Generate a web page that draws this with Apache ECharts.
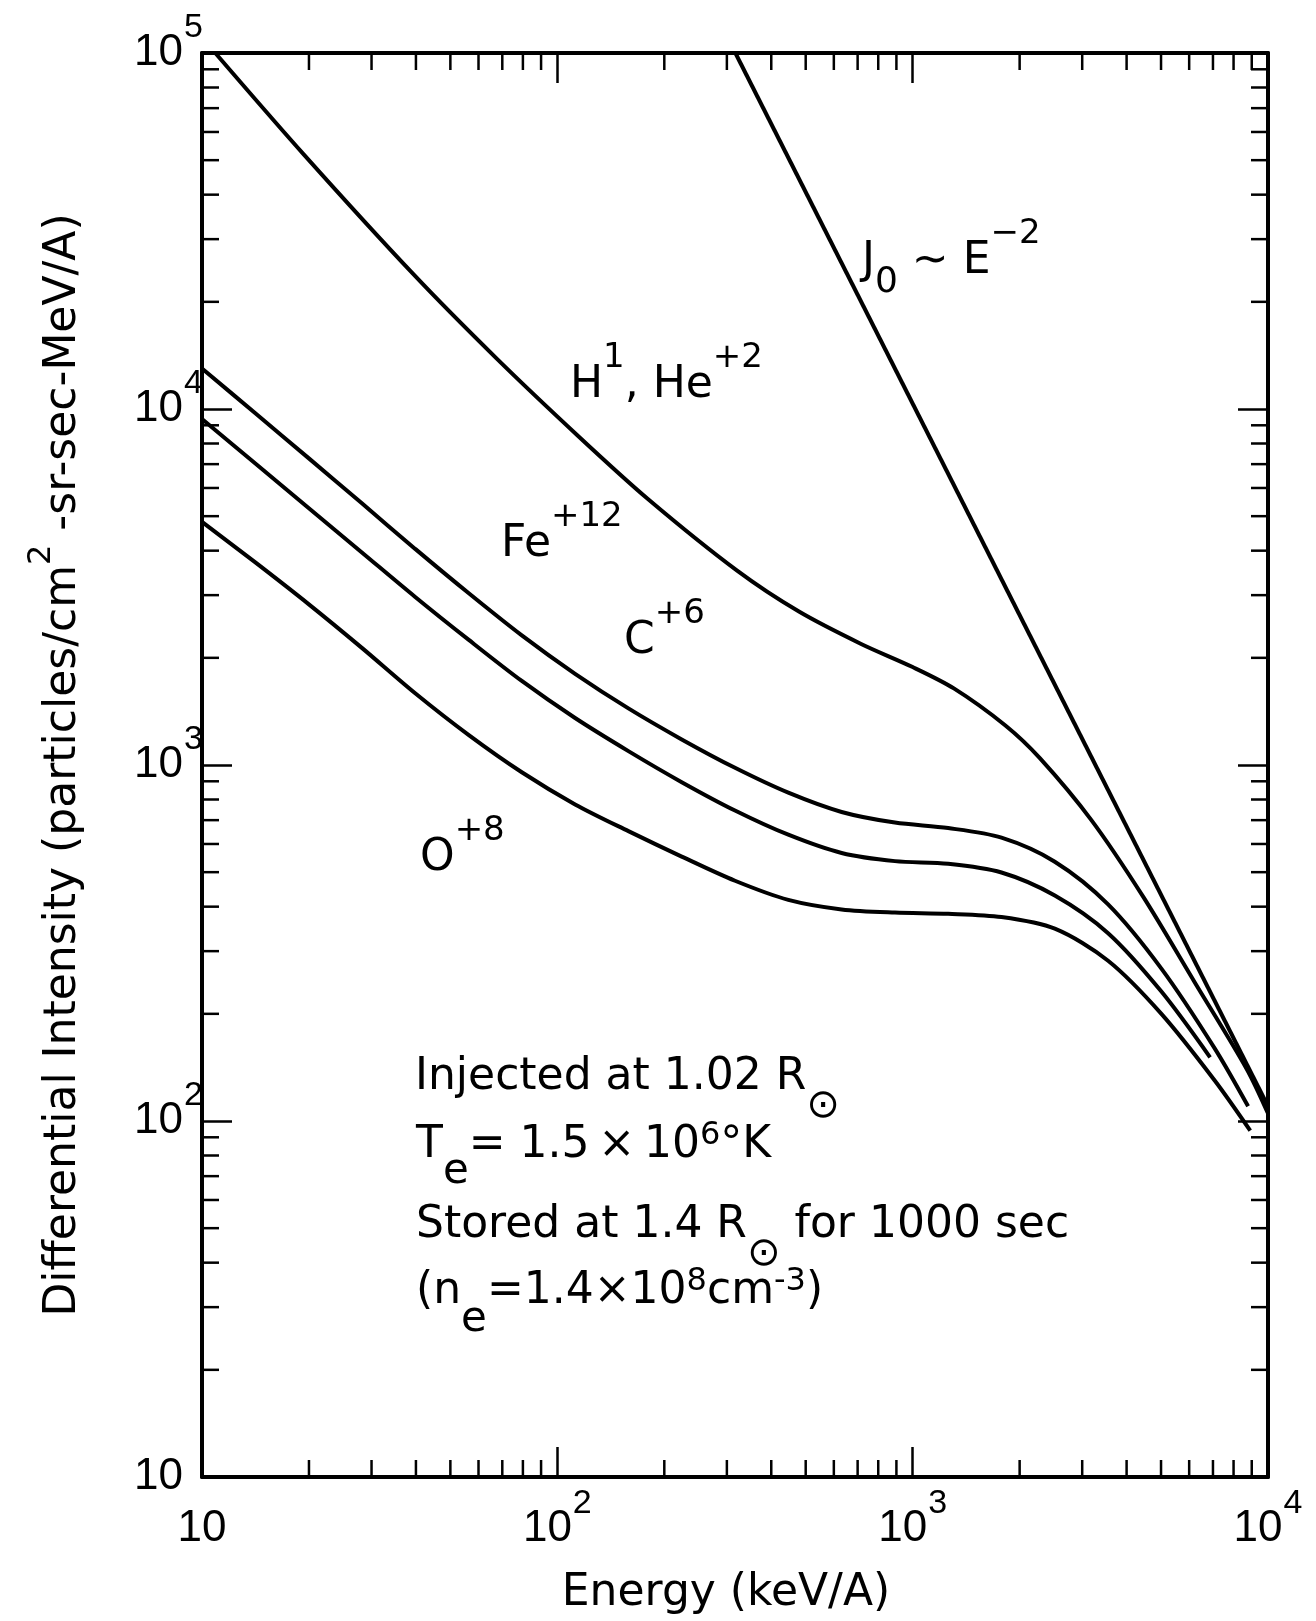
<!DOCTYPE html>
<html><head><meta charset="utf-8">
<script src="https://cdn.jsdelivr.net/npm/echarts@6/dist/echarts.min.js"></script>
<style>html,body{margin:0;padding:0;background:#fff}#c{width:1316px;height:1621px}</style>
</head><body><div id="c"></div>
<script>
// ---------------- data ----------------
// Energy in keV/A, differential intensity in particles/(cm^2 sr sec MeV/A)
const energyH    = [10.9, 19.3, 39.4, 67.3, 114.8, 179.5, 320.6, 478.6, 716.1, 1000, 1306, 1824, 2280, 3184, 4457, 6223, 8710, 10000];
const intensityH = [100000, 52000, 23880, 13900, 8375, 5598, 3516, 2698, 2188, 1884, 1641, 1291, 1045, 700, 426, 245, 140, 105];

const energyFe    = [10, 14.13, 19.95, 28.18, 39.81, 56.23, 79.43, 112.2, 158.5, 223.9, 316.2, 446.7, 631.0, 891.3, 1259, 1778, 2512, 3548, 5012, 7079, 8790];
const intensityFe = [13000, 9727, 7278, 5433, 4046, 3041, 2312, 1803, 1442, 1180, 982, 836, 738, 689, 665, 625, 535, 406, 268, 160, 110];

const energyC    = [10, 14.13, 19.95, 28.18, 39.81, 56.23, 79.43, 112.2, 158.5, 223.9, 316.2, 446.7, 631.0, 891.3, 1259, 1778, 2512, 3548, 5012, 6871];
const intensityC = [9376, 7031, 5272, 3954, 2965, 2249, 1722, 1355, 1094, 895, 745, 637, 566, 537, 528, 499, 430, 337, 231, 151];

const energyO    = [10, 14.13, 19.95, 28.18, 39.81, 56.23, 79.43, 112.2, 158.5, 223.9, 316.2, 446.7, 631.0, 891.3, 1259, 1778, 2512, 3548, 5012, 7079, 8913];
const intensityO = [4820, 3707, 2831, 2133, 1590, 1215, 954, 775, 652, 553, 473, 418, 393, 385, 382, 374, 347, 282, 200, 130, 94];

const energyJ0    = [317, 10000];
const intensityJ0 = [100000, 110];

// axis ranges and minor tick values
const xRange = [10, 10000];
const yRange = [10, 100000];
const xMinorTicks = [20,30,40,50,60,70,80,90, 200,300,400,500,600,700,800,900, 2000,3000,4000,5000,6000,7000,8000,9000];
const yMinorTicks = [20,30,40,50,60,70,80,90, 200,300,400,500,600,700,800,900, 2000,3000,4000,5000,6000,7000,8000,9000, 20000,30000,40000,50000,60000,70000,80000,90000];

// ---------------- chart ----------------
const FONT = '"DejaVu Sans", sans-serif';
const TICKFONT = '"Liberation Sans", Arial, sans-serif';
const chart = echarts.init(document.getElementById('c'), null, {renderer: 'canvas'});

function pair(xs, ys) { return xs.map((x, i) => [x, ys[i]]); }

const tickRich = {
  b: {fontFamily: TICKFONT, fontSize: 44, height: 44, lineHeight: 84, padding: [20, 0, 0, 0], verticalAlign: 'top', color: '#000'},
  s: {fontFamily: TICKFONT, fontSize: 34, height: 34, lineHeight: 84, padding: [0, 0, 0, 1], verticalAlign: 'top', color: '#000'}
};
function tickFmt(v) {
  const e = Math.round(Math.log10(v));
  return e === 1 ? '{b|10}' : '{b|10}{s|' + e + '}';
}

// rich styles for annotations (zrender text => fill)
const annRich = {
  n: {fontFamily: FONT, fontSize: 44, lineHeight: 44, padding: [23, 0, 0, 0], verticalAlign: 'top', fill: '#000'},
  p: {fontFamily: FONT, fontSize: 34, lineHeight: 34, padding: [0, 0, 0, 0], verticalAlign: 'top', fill: '#000'},
  q: {fontFamily: FONT, fontSize: 32, lineHeight: 32, padding: [19, 0, 0, 0], verticalAlign: 'top', fill: '#000'},
  b: {fontFamily: FONT, fontSize: 42, lineHeight: 42, padding: [50, 0, 0, 0], verticalAlign: 'top', fill: '#000'},
  c: {fontFamily: FONT, fontSize: 42, lineHeight: 42, padding: [52, 0, 0, 0], verticalAlign: 'top', fill: '#000'},
  j: {fontFamily: FONT, fontSize: 36, lineHeight: 36, padding: [48, 0, 0, 0], verticalAlign: 'top', fill: '#000'},
  o: {fontFamily: FONT, fontSize: 40, lineHeight: 40, padding: [54, 0, 0, 0], verticalAlign: 'top', fill: '#000'}
};
function ann(x, capTop, text) {
  return {type: 'text', x: x, y: capTop - 28, silent: true,
    style: {text: text, rich: annRich, fill: '#000', font: '44px ' + FONT}};
}

const lineStyle = {color: '#000', width: 4};
function curve(name, xs, ys) {
  return {name: name, type: 'line', data: pair(xs, ys), showSymbol: false, symbol: 'none',
    smooth: 0.3, lineStyle: lineStyle, itemStyle: {color: '#000'}, clip: true, silent: true, z: 3};
}

const tickLine = {color: '#000', width: 2.5};
const axisLine = {show: true, onZero: false, lineStyle: {color: '#000', width: 4}};

const option = {
  animation: false,
  backgroundColor: '#fff',
  grid: {left: 202, top: 53, right: 48, bottom: 139, containLabel: false},
  xAxis: [
    {type: 'log', logBase: 10, min: xRange[0], max: xRange[1], position: 'bottom',
     axisLine: axisLine, splitLine: {show: false},
     axisTick: {show: true, inside: true, length: 30, lineStyle: tickLine},
     axisLabel: {show: true, formatter: tickFmt, rich: tickRich, margin: 10, showMinLabel: true, showMaxLabel: true, hideOverlap: false},
     name: 'Energy (keV/A)', nameLocation: 'middle', nameGap: 95,
     nameTextStyle: {fontFamily: FONT, fontSize: 44, color: '#000', padding: [0, 18, 0, 0]}},
    {type: 'log', logBase: 10, min: xRange[0], max: xRange[1], position: 'top',
     axisLine: axisLine, splitLine: {show: false},
     axisTick: {show: true, inside: true, length: 30, lineStyle: tickLine},
     axisLabel: {show: false}}
  ],
  yAxis: [
    {type: 'log', logBase: 10, min: yRange[0], max: yRange[1], position: 'left',
     axisLine: axisLine, splitLine: {show: false},
     axisTick: {show: true, inside: true, length: 30, lineStyle: tickLine},
     axisLabel: {show: true, formatter: tickFmt, rich: tickRich, align: 'left', margin: 68, showMinLabel: true, showMaxLabel: true, hideOverlap: false},
     name: '{n|Differential Intensity (particles/cm}{s|2}{n| -sr-sec-MeV/A)}',
     nameLocation: 'middle', nameGap: 132,
     nameTextStyle: {fontFamily: FONT, fontSize: 44, color: '#000',
       rich: {
         n: {fontFamily: FONT, fontSize: 44, lineHeight: 44, padding: [16, 0, 0, 0], verticalAlign: 'top', color: '#000'},
         s: {fontFamily: FONT, fontSize: 32, lineHeight: 32, padding: [0, 0, 0, 0], verticalAlign: 'top', color: '#000'}
       }}},
    {type: 'log', logBase: 10, min: yRange[0], max: yRange[1], position: 'right',
     axisLine: axisLine, splitLine: {show: false},
     axisTick: {show: true, inside: true, length: 30, lineStyle: tickLine},
     axisLabel: {show: false}}
  ],
  series: [
    curve('J0', energyJ0, intensityJ0),
    curve('H1, He+2', energyH, intensityH),
    curve('Fe+12', energyFe, intensityFe),
    curve('C+6', energyC, intensityC),
    curve('O+8', energyO, intensityO),
    {type: 'custom', name: 'xMinor', xAxisIndex: 0, yAxisIndex: 0, silent: true, clip: false, z: 5,
     data: xMinorTicks.map(v => [v, yRange[0]]),
     renderItem: function (params, api) {
       const v = api.value(0);
       const b = api.coord([v, yRange[0]]);
       const t = api.coord([v, yRange[1]]);
       return {type: 'group', children: [
         {type: 'line', shape: {x1: b[0], y1: b[1], x2: b[0], y2: b[1] - 17}, style: {stroke: '#000', lineWidth: 2.5}},
         {type: 'line', shape: {x1: t[0], y1: t[1], x2: t[0], y2: t[1] + 17}, style: {stroke: '#000', lineWidth: 2.5}}
       ]};
     }},
    {type: 'custom', name: 'yMinor', xAxisIndex: 0, yAxisIndex: 0, silent: true, clip: false, z: 5,
     data: yMinorTicks.map(v => [xRange[0], v]),
     renderItem: function (params, api) {
       const v = api.value(1);
       const l = api.coord([xRange[0], v]);
       const r = api.coord([xRange[1], v]);
       return {type: 'group', children: [
         {type: 'line', shape: {x1: l[0], y1: l[1], x2: l[0] + 17, y2: l[1]}, style: {stroke: '#000', lineWidth: 2.5}},
         {type: 'line', shape: {x1: r[0], y1: r[1], x2: r[0] - 17, y2: r[1]}, style: {stroke: '#000', lineWidth: 2.5}}
       ]};
     }}
  ],
  graphic: [
    ann(570, 369, '{n|H}{p|1}{n|, He}{p|+2}'),
    ann(501, 528, '{n|Fe}{p|+12}'),
    ann(624, 625, '{n|C}{p|+6}'),
    ann(420, 842, '{n|O}{p|+8}'),
    ann(862, 245, '{n|J}{j|0}{n| ∼ E}{p|−2}'),
    ann(415, 1061, '{n|Injected at 1.02 R}{o|⊙}'),
    ann(416, 1129, '{n|T}{b|e}{n|= 1.5\u2009×\u200910}{q|6}{n|°K}'),
    ann(416, 1209, '{n|Stored at 1.4 R}{o|⊙}{n| for 1000 sec}'),
    ann(416, 1275, '{n|(n}{c|e}{n|=1.4×10}{q|8}{n|cm}{q|-3}{n|)}')
  ]
};
chart.setOption(option);
</script>
</body></html>
